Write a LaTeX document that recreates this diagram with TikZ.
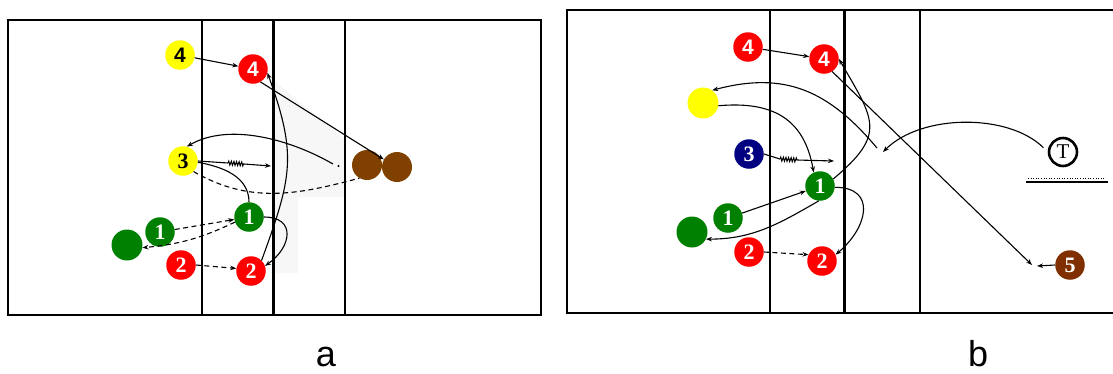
\documentclass[tikz,border=0pt]{standalone}
\usepackage{fontspec}
\setmainfont{Liberation Serif}
\newfontfamily\panelfont{Liberation Sans}
\usetikzlibrary{arrows.meta,decorations.pathmorphing}
\definecolor{plred}{RGB}{255,0,0}
\definecolor{plyellow}{RGB}{255,255,0}
\definecolor{plgreen}{RGB}{0,128,0}
\definecolor{plbrown}{RGB}{128,64,0}
\definecolor{plnavy}{RGB}{0,0,128}
\definecolor{plrust}{RGB}{128,48,0}
\begin{document}
\begin{tikzpicture}[x=1pt, y=1pt,
  player/.style={circle, minimum size=29.5pt, inner sep=0pt, text=white, font=\bfseries\fontsize{22}{22}\selectfont},
  sansnum/.style={font=\panelfont\bfseries\fontsize{21}{21}\selectfont},
  court/.style={line width=2.4pt},
  arr/.style={-{Stealth[length=6pt,width=4.5pt]}, line width=1.1pt},
  runline/.style={line width=1.1pt},
  dashrun/.style={line width=1.1pt, dash pattern=on 5pt off 3.5pt},
  coil/.style={line width=1pt, decorate, decoration={zigzag, segment length=2.6pt, amplitude=2pt}}]
\useasboundingbox (0,0) rectangle (1113,-373);
\fill[black!3] (273,-80) -- (345,-139) -- (345,-197) -- (298,-197) -- (298,-273) -- (273,-273) -- cycle;
\draw[court] (8,-20) rectangle (541,-315);
\draw[court] (202,-20) -- (202,-315);
\draw[court, line width=3pt] (273,-20) -- (273,-315);
\draw[court] (345,-20) -- (345,-315);
\draw[court] (1113,-10) -- (567,-10) -- (567,-313) -- (1113,-313);
\draw[court] (770,-10) -- (770,-313);
\draw[court, line width=3pt] (844,-10) -- (844,-313);
\draw[court] (920,-10) -- (920,-313);

\node[player, sansnum, fill=plyellow, text=black] (a4y) at (180,-55) {4};
\node[player, sansnum, fill=plred] (a4r) at (253,-69) {4};
\node[player, fill=plyellow, text=black] (a3y) at (183,-161) {3};
\node[player, fill=plbrown, minimum size=30pt] (abr1) at (367,-165) {};
\node[player, fill=plbrown, minimum size=30pt] (abr2) at (397,-167) {};
\node[player, fill=plgreen] (a1g) at (249,-217) {1};
\node[player, fill=plgreen] (a1gl) at (160,-232) {1};
\node[player, fill=plgreen, minimum size=31pt] (agp) at (127,-245) {};
\node[player, fill=plred] (a2l) at (181,-265) {2};
\node[player, fill=plred] (a2r) at (251,-271) {2};
\coordinate (za1) at (228,-163);
\coordinate (za2) at (244,-164);
\coordinate (za3) at (271,-166);
\coordinate (aarc) at (333,-164);
\coordinate (adot) at (338.5,-166);

\draw[arr] (a4y) -- (a4r);
\draw[arr] (a4r.-60) -- (abr2.150);
\draw[arr] (a2r.45) to[out=70, in=-70, looseness=1.2] (a4r.-15);
\draw[arr] (a1g.0) to[out=0, in=35, looseness=1.7] (a2r.20);
\draw[runline] (a3y.-5) to[out=-10, in=90] (a1g.north);
\draw[runline] (a3y.east) -- (za1);
\draw[coil] (za1) -- (za2);
\draw[arr] (za2) -- (za3);
\draw[arr] (aarc) to[out=150, in=30, looseness=0.85] (a3y.75);
\fill (adot) circle (1.2pt);
\draw[dashrun] (a3y.-45) to[out=-30, in=195] (abr1.240);
\draw[dashrun, -{Stealth[length=6pt,width=4.5pt]}] (a1gl) -- (a1g);
\draw[dashrun, -{Stealth[length=6pt,width=4.5pt]}] (a1g.200) to[bend left=10] (agp.-10);
\draw[dashrun, -{Stealth[length=6pt,width=4.5pt]}] (a2l.east) -- (a2r.170);

\node[player, sansnum, fill=plred] (b4l) at (748,-47) {4};
\node[player, sansnum, fill=plred] (b4r) at (824,-59) {4};
\node[player, fill=plyellow, minimum size=31pt] (byp) at (703,-103) {};
\node[player, fill=plnavy] (b3) at (749,-154) {3};
\node[player, fill=plgreen] (b1c) at (820,-186) {1};
\node[player, fill=plgreen] (b1l) at (728,-218) {1};
\node[player, fill=plgreen, minimum size=31pt] (bgp) at (692,-232) {};
\node[player, fill=plred] (b2l) at (749,-252) {2};
\node[player, fill=plred] (b2r) at (822,-261) {2};
\node[player, fill=plrust] (b5) at (1070,-265) {5};
\node[circle, draw, line width=2.6pt, fill=white, minimum size=28pt, inner sep=0pt, font=\fontsize{21}{21}\selectfont] (bT) at (1063,-152) {T};
\coordinate (zb1) at (780,-159);
\coordinate (zb2) at (797,-160);
\coordinate (zb3) at (834,-161);
\coordinate (bTend) at (883,-152);
\coordinate (barc) at (877,-148);
\coordinate (b5end) at (1032,-265);
\coordinate (b5tip) at (1037,-266);

\draw[arr] (b4l) -- (b4r);
\draw[arr] (b4r.-57) -- (b5end);
\draw[arr] (b5.west) -- (b5tip);
\draw[arr, shorten <=6pt] (bT.west) to[out=135, in=45, looseness=0.85] (bTend);
\draw[arr] (b1c.28) to[out=40, in=-60, looseness=1.5] (b4r.0);
\draw[arr] (b1c.-5) to[out=0, in=40, looseness=1.6] (b2r.25);
\draw[arr] (b1l) -- (b1c);
\draw[arr] (b1c.-95) to[out=210, in=0] (bgp.-27);
\draw[arr] (byp.-10) to[out=5, in=100, looseness=1.2] (b1c.115);
\draw[arr] (barc) to[out=130, in=15, looseness=1.1] (byp.54);
\draw[runline] (b3.east) -- (zb1);
\draw[coil] (zb1) -- (zb2);
\draw[arr] (zb2) -- (zb3);
\draw[dashrun, -{Stealth[length=6pt,width=4.5pt]}] (b2l.east) -- (b2r.155);
\draw[line width=1.5pt] (1026,-182) -- (1108,-182);
\draw[line width=1.2pt, dash pattern=on 1pt off 1.6pt] (1028,-178.5) -- (1106,-178.5);

\node[font=\panelfont\fontsize{36}{36}\selectfont, anchor=base] (capa) at (326,-366) {a};
\node[font=\panelfont\fontsize{36}{36}\selectfont, anchor=base] (capb) at (978,-366) {b};
\end{tikzpicture}
\end{document}
